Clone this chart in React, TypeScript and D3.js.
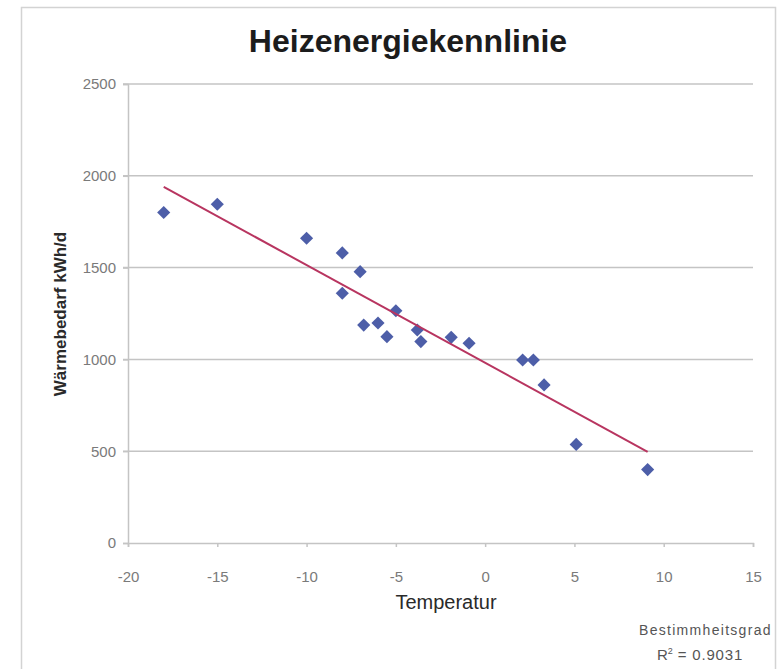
import { useRef, useEffect } from "react";
import * as d3 from "d3";

// Tagesmittel-Temperatur [°C] und Wärmebedarf [kWh/d]
const temperatures = [-18, -15, -10, -8, -7, -8, -6.8, -6, -5.5, -5, -3.8, -3.6, -1.9, -0.9, 2.1, 2.7, 3.3, 5.1, 9.1];
const demand = [1800, 1845, 1660, 1580, 1478, 1360, 1187, 1198, 1124, 1265, 1160, 1097, 1120, 1088, 997, 997, 861, 537, 400];

const xTicks = [-20, -15, -10, -5, 0, 5, 10, 15];
const yTicks = [0, 500, 1000, 1500, 2000, 2500];

const TITLE = "Heizenergiekennlinie";
const X_LABEL = "Temperatur";
const Y_LABEL = "Wärmebedarf kWh/d";
const R2_TEXT = "0.9031";

const WIDTH = 781;
const HEIGHT = 669;
const PLOT = { left: 128, right: 753, top: 84, bottom: 543 };

const GRID = "#c4c4c4";
const MARKER = "#4d5ea8";
const TREND = "#b83560";

export default function App() {
  const svgRef = useRef<SVGSVGElement>(null);

  useEffect(() => {
    if (!svgRef.current) return;
    const svg = d3.select(svgRef.current);
    svg.selectAll("*").remove();

    const data = temperatures.map((t, i) => ({ t, q: demand[i] }));

    const x = d3.scaleLinear().domain([-20, 15]).range([PLOT.left, PLOT.right]);
    const y = d3.scaleLinear().domain([0, 2500]).range([PLOT.bottom, PLOT.top]);

    // Rahmen
    svg.append("rect")
      .attr("x", 21.5)
      .attr("y", 7.5)
      .attr("width", 754)
      .attr("height", 680)
      .attr("fill", "#fff")
      .attr("stroke", "#d3d3d3")
      .attr("stroke-width", 1.5);

    // Titel
    svg.append("text")
      .attr("x", 408)
      .attr("y", 52)
      .attr("text-anchor", "middle")
      .attr("font-family", "'Liberation Sans', Arial, sans-serif")
      .attr("font-weight", "bold")
      .attr("font-size", "32px")
      .attr("fill", "#1c1c1c")
      .text(TITLE);

    // horizontal gridlines
    svg.append("g")
      .selectAll("line")
      .data(yTicks.filter((d) => d > 0))
      .join("line")
      .attr("x1", PLOT.left - 5)
      .attr("x2", PLOT.right)
      .attr("y1", (d) => y(d))
      .attr("y2", (d) => y(d))
      .attr("stroke", GRID)
      .attr("stroke-width", 1.5);

    // Y axis
    const yAxis = svg.append("g")
      .attr("transform", `translate(${PLOT.left},0)`)
      .call(d3.axisLeft(y).tickValues(yTicks).tickSize(5).tickPadding(7).tickFormat((d) => String(d)));

    // X axis
    const xAxis = svg.append("g")
      .attr("transform", `translate(0,${PLOT.bottom})`)
      .call(d3.axisBottom(x).tickValues(xTicks).tickSize(4).tickPadding(24).tickFormat((d) => String(d)));

    [yAxis, xAxis].forEach((ax) => {
      ax.select(".domain").attr("stroke", GRID).attr("stroke-width", 1.5);
      ax.selectAll(".tick line").attr("stroke", GRID).attr("stroke-width", 1.5);
      ax.selectAll("text")
        .attr("fill", "#7a7a7a")
        .attr("font-family", "'Liberation Sans', Arial, sans-serif")
        .attr("font-size", "15px");
    });
    xAxis.selectAll(".tick line").attr("y2", 4);

    // Achsentitel
    svg.append("text")
      .attr("x", 446)
      .attr("y", 609)
      .attr("text-anchor", "middle")
      .attr("font-family", "'Liberation Sans', Arial, sans-serif")
      .attr("font-size", "20px")
      .attr("fill", "#2a2a2a")
      .text(X_LABEL);

    svg.append("text")
      .attr("transform", `translate(66,${314}) rotate(-90)`)
      .attr("text-anchor", "middle")
      .attr("font-family", "'Liberation Sans', Arial, sans-serif")
      .attr("font-weight", "bold")
      .attr("font-size", "17px")
      .attr("fill", "#2a2a2a")
      .text(Y_LABEL);

    // lineare Trendlinie (kleinste Quadrate)
    const mx = d3.mean(data, (d) => d.t) ?? 0;
    const my = d3.mean(data, (d) => d.q) ?? 0;
    const sxy = d3.sum(data, (d) => (d.t - mx) * (d.q - my));
    const sxx = d3.sum(data, (d) => (d.t - mx) ** 2);
    const slope = sxy / sxx;
    const intercept = my - slope * mx;
    const [tMin, tMax] = d3.extent(data, (d) => d.t) as [number, number];
    const trend = [tMin, tMax].map((t) => ({ t, q: intercept + slope * t }));

    // Messpunkte
    svg.append("g")
      .selectAll("path")
      .data(data)
      .join("path")
      .attr("transform", (d) => `translate(${x(d.t)},${y(d.q)})`)
      .attr("d", d3.symbol().type(d3.symbolDiamond2).size(110)())
      .attr("fill", MARKER);

    svg.append("path")
      .datum(trend)
      .attr("d", d3.line<{ t: number; q: number }>().x((d) => x(d.t)).y((d) => y(d.q)))
      .attr("fill", "none")
      .attr("stroke", TREND)
      .attr("stroke-width", 2);

    // Bestimmtheitsmaß
    const r2 = svg.append("text")
      .attr("font-family", "'Liberation Sans', Arial, sans-serif")
      .attr("font-size", "14px")
      .attr("fill", "#555");
    r2.append("tspan").attr("x", 639).attr("y", 635).attr("letter-spacing", "1.3px").text("Bestimmheitsgrad");
    const l2 = r2.append("tspan").attr("x", 657).attr("y", 660);
    l2.append("tspan").attr("font-size", "15px").text("R");
    l2.append("tspan").attr("dy", -6).attr("font-size", "9px").text("2");
    l2.append("tspan").attr("dy", 6).attr("font-size", "15px").attr("letter-spacing", "0.8px").text(` = ${R2_TEXT}`);
  }, []);

  return (
    <svg
      ref={svgRef}
      width={WIDTH}
      height={HEIGHT}
      style={{ position: "absolute", left: 0, top: 0, background: "#fff" }}
    />
  );
}
